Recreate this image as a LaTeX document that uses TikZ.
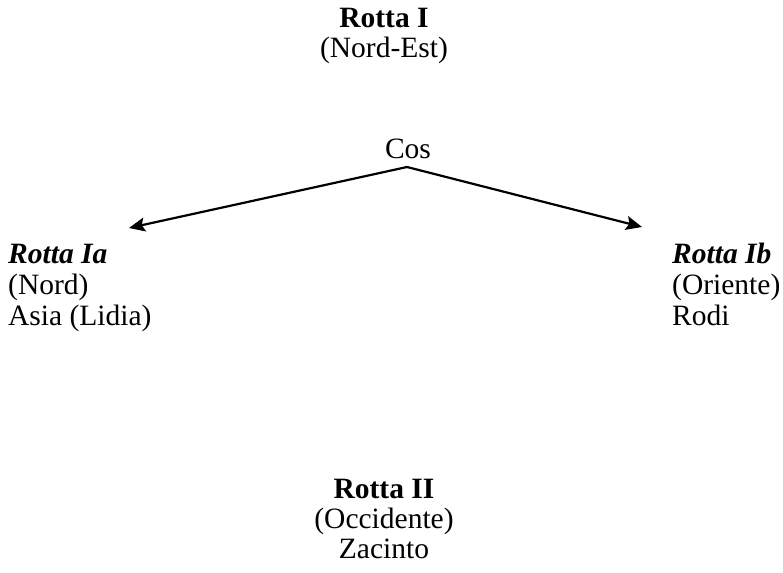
\documentclass[tikz,border=0pt]{standalone}
\usepackage{fontspec}
\setmainfont{Liberation Serif}
\usetikzlibrary{arrows.meta}
\begin{document}
\begin{tikzpicture}[x=1pt,y=-1pt,
  lbl/.style={inner sep=0pt,anchor=base,font=\fontsize{29.5}{31}\selectfont},
  lbll/.style={lbl,anchor=base west},
  conn/.style={line width=2.2pt,-{Stealth[length=16pt,width=14pt,inset=3pt]}}]
\useasboundingbox (0,0) rectangle (783,572);
% top
\node[lbl] (r1) at (384,28) {\textbf{Rotta I}};
\node[lbl] (r1b) at (384,58) {(Nord-Est)};
\node[lbl] (cos) at (408,159) {Cos};
% left
\node[lbll] (ra) at (8,263) {\textbf{\textit{Rotta Ia}}};
\node[lbll] (rab) at (8,294) {(Nord)};
\node[lbll] (rac) at (8,325) {Asia (Lidia)};
% right
\node[lbll] (rb) at (672,263) {\textbf{\textit{Rotta Ib}}};
\node[lbll] (rbb) at (672,294) {(Oriente)};
\node[lbll] (rbc) at (672,325) {Rodi};
% bottom
\node[lbl] (r2) at (384,498) {\textbf{Rotta II}};
\node[lbl] (r2b) at (384,528) {(Occidente)};
\node[lbl] (r2c) at (384,558) {Zacinto};
% connectors
\coordinate (apex) at (407,167);
\coordinate (ta) at (129,228);
\coordinate (tb) at (642,227);
\draw[conn] (apex) -- (ta);
\draw[conn] (apex) -- (tb);
\end{tikzpicture}
\end{document}
